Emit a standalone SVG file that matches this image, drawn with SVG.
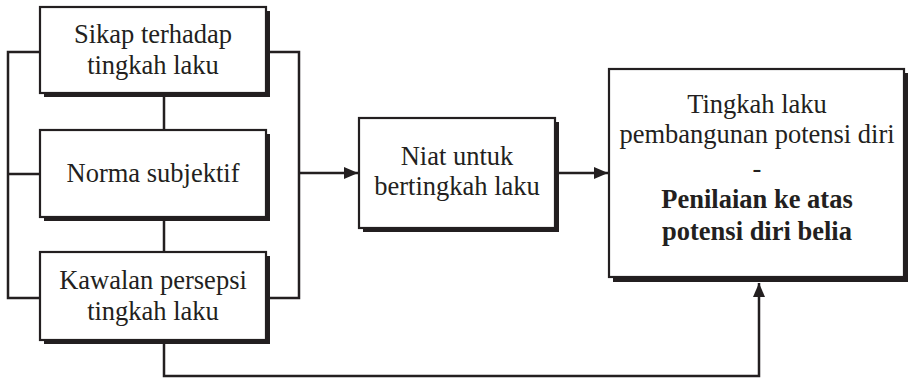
<svg xmlns="http://www.w3.org/2000/svg" width="910" height="378" viewBox="0 0 910 378">
<defs>
<style>
.sh{fill:#231f20}
.bx{fill:#fff;stroke:#231f20;stroke-width:2.2}
.t{font-family:"Liberation Serif","Times New Roman",serif;font-size:26.5px;fill:#231f20;text-anchor:middle}
.b{font-weight:bold}
.c{fill:none;stroke:#231f20;stroke-width:2.5}
</style>
<marker id="ah" viewBox="0 0 14 12" refX="14" refY="6" markerWidth="14" markerHeight="12" markerUnits="userSpaceOnUse" orient="auto">
<path d="M0,0 L14,6 L0,12 Z" fill="#231f20"/>
</marker>
</defs>
<g id="connectors">
<path class="c" d="M40,52 H8 V298 H40 M8,174 H40"/>
<path class="c" d="M266,52 H299 V298 H266"/>
<path class="c" d="M164,93 V130 M164,217 V252"/>
<path class="c" d="M299,173 H358" marker-end="url(#ah)"/>
<path class="c" d="M559,173 H608" marker-end="url(#ah)"/>
<path class="c" d="M164,340 V376 H759 V283" marker-end="url(#ah)"/>
</g>
<g id="n1">
<rect class="sh" x="44" y="11" width="226" height="86"/>
<rect class="bx" x="40" y="7" width="226" height="86"/>
<text class="t" x="153" y="43">Sikap terhadap</text>
<text class="t" x="153" y="74">tingkah laku</text>
</g>
<g id="n2">
<rect class="sh" x="44" y="134" width="226" height="87"/>
<rect class="bx" x="40" y="130" width="226" height="87"/>
<text class="t" x="153" y="182">Norma subjektif</text>
</g>
<g id="n3">
<rect class="sh" x="44" y="256" width="226" height="88"/>
<rect class="bx" x="40" y="252" width="226" height="88"/>
<text class="t" x="153" y="289">Kawalan persepsi</text>
<text class="t" x="153" y="320">tingkah laku</text>
</g>
<g id="n4">
<rect class="sh" x="363" y="122" width="196" height="110"/>
<rect class="bx" x="359" y="118" width="196" height="110"/>
<text class="t" x="457" y="165">Niat untuk</text>
<text class="t" x="457" y="195">bertingkah laku</text>
</g>
<g id="n5">
<rect class="sh" x="613" y="73" width="295" height="209"/>
<rect class="bx" x="609" y="69" width="295" height="208"/>
<text class="t" x="757" y="113">Tingkah laku</text>
<text class="t" x="757" y="143">pembangunan potensi diri</text>
<text class="t" x="757" y="177">-</text>
<text class="t b" x="757" y="208">Penilaian ke atas</text>
<text class="t b" x="757" y="240">potensi diri belia</text>
</g>
</svg>
